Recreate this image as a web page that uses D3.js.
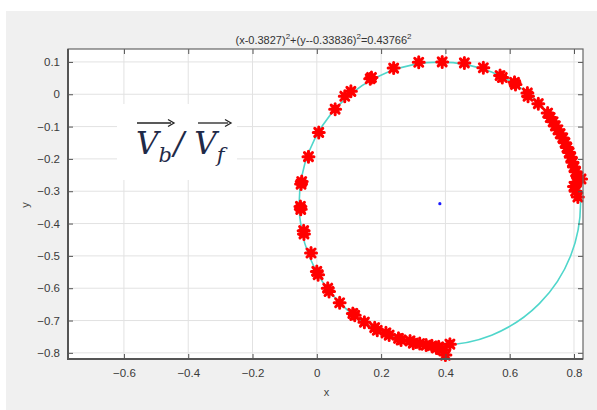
<!DOCTYPE html>
<html>
<head>
<meta charset="utf-8">
<script src="https://cdn.jsdelivr.net/npm/d3@7"></script>
<style>
  body { margin: 0; background: #fff; }
  svg { display: block; }
</style>
</head>
<body>
<div id="chart"></div>
<script>
// fitted circle (from the title equation)
var centerX = 0.3827;
var centerY = -0.33836;
var radius = 0.43766;

// measured points (red stars)
var pointsX = [0.317, 0.390, 0.459, 0.518, 0.570, 0.577, 0.615, 0.618, 0.655, 0.657, 0.689,
  0.718, 0.726, 0.735, 0.742, 0.750, 0.757, 0.765, 0.772, 0.778, 0.785, 0.790, 0.795, 0.800,
  0.805, 0.812, 0.822, 0.808, 0.800, 0.805, 0.812,
  0.239, 0.166, 0.170, 0.106, 0.087, 0.057, 0.006, -0.026, -0.047, -0.049, -0.051, -0.050,
  -0.041, -0.040, -0.018, 0.000, 0.004, 0.034, 0.038, 0.071, 0.112, 0.118, 0.148, 0.180,
  0.188, 0.215, 0.225, 0.254, 0.262, 0.290, 0.300, 0.320, 0.340, 0.358, 0.372, 0.379, 0.390,
  0.414, 0.400];
var pointsY = [0.099, 0.100, 0.097, 0.082, 0.058, 0.052, 0.037, 0.030, 0.004, -0.006, -0.029,
  -0.058, -0.072, -0.085, -0.098, -0.110, -0.122, -0.135, -0.150, -0.165, -0.180, -0.195,
  -0.210, -0.225, -0.240, -0.255, -0.262, -0.272, -0.285, -0.300, -0.318,
  0.081, 0.048, 0.052, 0.009, -0.006, -0.046, -0.118, -0.193, -0.270, -0.278, -0.347, -0.356,
  -0.422, -0.432, -0.491, -0.548, -0.558, -0.600, -0.610, -0.645, -0.678, -0.684, -0.705,
  -0.722, -0.730, -0.738, -0.745, -0.755, -0.760, -0.763, -0.770, -0.771, -0.776, -0.778,
  -0.785, -0.781, -0.790, -0.773, -0.807];

var xTicks = [-0.6, -0.4, -0.2, 0, 0.2, 0.4, 0.6, 0.8];
var yTicks = [-0.8, -0.7, -0.6, -0.5, -0.4, -0.3, -0.2, -0.1, 0, 0.1];

var width = 597, height = 410;
var axLeft = 68, axRight = 583, axTop = 49, axBottom = 359;

var svg = d3.select("#chart").append("svg")
  .attr("width", width)
  .attr("height", height)
  .style("font-family", "'Liberation Sans', Arial, sans-serif");

// soft look for the star markers
svg.append("defs").append("filter")
  .attr("id", "soft")
  .append("feGaussianBlur").attr("stdDeviation", 0.6);

// figure background
svg.append("rect")
  .attr("x", 6).attr("y", 11)
  .attr("width", width - 6).attr("height", height - 11)
  .attr("fill", "#f0f0f0");

var x = d3.scaleLinear().domain([-0.774, 0.828]).range([axLeft, axRight]);
var y = d3.scaleLinear().domain([-0.819, 0.14]).range([axBottom, axTop]);

svg.append("rect")
  .attr("x", axLeft).attr("y", axTop)
  .attr("width", axRight - axLeft).attr("height", axBottom - axTop)
  .attr("fill", "#fff");

// grid
svg.append("g").selectAll("line")
  .data(xTicks).enter().append("line")
  .attr("x1", function(d) { return x(d); })
  .attr("x2", function(d) { return x(d); })
  .attr("y1", axTop).attr("y2", axBottom)
  .attr("stroke", "#e2e2e2");
svg.append("g").selectAll("line")
  .data(yTicks).enter().append("line")
  .attr("y1", function(d) { return y(d); })
  .attr("y2", function(d) { return y(d); })
  .attr("x1", axLeft).attr("x2", axRight)
  .attr("stroke", "#e2e2e2");

// annotation box hides the grid behind the text
svg.append("rect")
  .attr("x", 117).attr("y", 104)
  .attr("width", 120).attr("height", 76)
  .attr("fill", "#fff");

// fitted circle
svg.append("ellipse")
  .attr("cx", x(centerX))
  .attr("cy", y(centerY))
  .attr("rx", x(centerX + radius) - x(centerX))
  .attr("ry", y(centerY) - y(centerY + radius))
  .attr("fill", "none")
  .attr("stroke", "#4fd6cb")
  .attr("stroke-width", 1.6);

// red stars
var points = d3.range(pointsX.length).map(function(i) {
  return {x: pointsX[i], y: pointsY[i]};
});
var star = "M-5.5,0H5.5M0,-5.5V5.5M-4,-4L4,4M-4,4L4,-4";
svg.append("g")
  .attr("filter", "url(#soft)")
  .selectAll("path")
  .data(points).enter().append("path")
  .attr("d", star)
  .attr("transform", function(d) { return "translate(" + x(d.x) + "," + y(d.y) + ")"; })
  .attr("fill", "none")
  .attr("stroke", "#ff0000")
  .attr("stroke-width", 3)
  .attr("stroke-linecap", "round");

// center
svg.append("circle")
  .attr("cx", x(centerX)).attr("cy", y(centerY))
  .attr("r", 1.6).attr("fill", "#1a1aff");

// axes
var fmt = function(d) { return d3.format("")(d).replace("-", "\u2212"); };
var xAxis = svg.append("g")
  .attr("transform", "translate(0," + axBottom + ")")
  .call(d3.axisBottom(x).tickValues(xTicks).tickSize(-5).tickPadding(10).tickFormat(fmt));
var yAxis = svg.append("g")
  .attr("transform", "translate(" + axLeft + ",0)")
  .call(d3.axisLeft(y).tickValues(yTicks).tickSize(-5).tickPadding(8).tickFormat(fmt));
var xTop = svg.append("g")
  .attr("transform", "translate(0," + axTop + ")")
  .call(d3.axisTop(x).tickValues(xTicks).tickSize(-5).tickFormat(""));
var yRight = svg.append("g")
  .attr("transform", "translate(" + axRight + ",0)")
  .call(d3.axisRight(y).tickValues(yTicks).tickSize(-5).tickFormat(""));

[xAxis, yAxis, xTop, yRight].forEach(function(g) {
  g.select(".domain").remove();
  g.selectAll(".tick line").attr("stroke", "#555");
  g.selectAll(".tick text")
    .attr("fill", "#3a3a3a")
    .style("font-size", "11.5px")
    .style("font-family", "'Liberation Sans', Arial, sans-serif");
});

svg.append("rect")
  .attr("x", axLeft).attr("y", axTop)
  .attr("width", axRight - axLeft).attr("height", axBottom - axTop)
  .attr("fill", "none")
  .attr("stroke", "#666")
  .attr("stroke-width", 1.2);
svg.append("path")
  .attr("d", "M" + axLeft + "," + axTop + "V" + axBottom + "H" + axRight)
  .attr("fill", "none")
  .attr("stroke", "#555")
  .attr("stroke-width", 2);

// labels
svg.append("text")
  .attr("x", (axLeft + axRight) / 2 + 1).attr("y", 396)
  .attr("text-anchor", "middle")
  .attr("fill", "#444").style("font-size", "11px")
  .text("x");
svg.append("text")
  .attr("transform", "translate(29,205) rotate(-90)")
  .attr("text-anchor", "middle")
  .attr("fill", "#444").style("font-size", "11px")
  .text("y");

// title with superscripts
var title = svg.append("text")
  .attr("x", (axLeft + axRight) / 2 - 2).attr("y", 44)
  .attr("text-anchor", "middle")
  .attr("fill", "#333")
  .style("font-size", "11px");
var parts = ["(x-0.3827)", "2", "+(y--0.33836)", "2", "=0.43766", "2"];
parts.forEach(function(p, i) {
  var t = title.append("tspan").text(p);
  if (i % 2 == 1) {
    t.attr("dy", -5).style("font-size", "8px");
  } else if (i > 0) {
    t.attr("dy", 5);
  }
});

// V_b / V_f annotation
var note = svg.append("g")
  .attr("fill", "#1f2a48")
  .style("font-family", "'DejaVu Serif', 'Liberation Serif', serif")
  .style("font-style", "italic");
var noteText = note.append("text")
  .attr("x", 136).attr("y", 154)
  .style("font-size", "31px");
noteText.append("tspan").text("V");
noteText.append("tspan").attr("dy", 8).style("font-size", "21px").text("b");
noteText.append("tspan").attr("dy", -8).attr("dx", 2).text("/");
noteText.append("tspan").attr("dx", 10).text("V");
noteText.append("tspan").attr("dy", 8).style("font-size", "21px").text("f");

function arrow(x1, x2, yy) {
  note.append("line")
    .attr("x1", x1).attr("x2", x2 - 3)
    .attr("y1", yy).attr("y2", yy)
    .attr("stroke", "#222").attr("stroke-width", 1.3);
  note.append("path")
    .attr("d", "M" + (x2 - 6) + "," + (yy - 3.5) + "L" + x2 + "," + yy + "L" + (x2 - 6) + "," + (yy + 3.5))
    .attr("fill", "none").attr("stroke", "#222").attr("stroke-width", 1.3);
}
arrow(137, 174, 123);
arrow(198, 231, 123);
</script>
</body>
</html>
